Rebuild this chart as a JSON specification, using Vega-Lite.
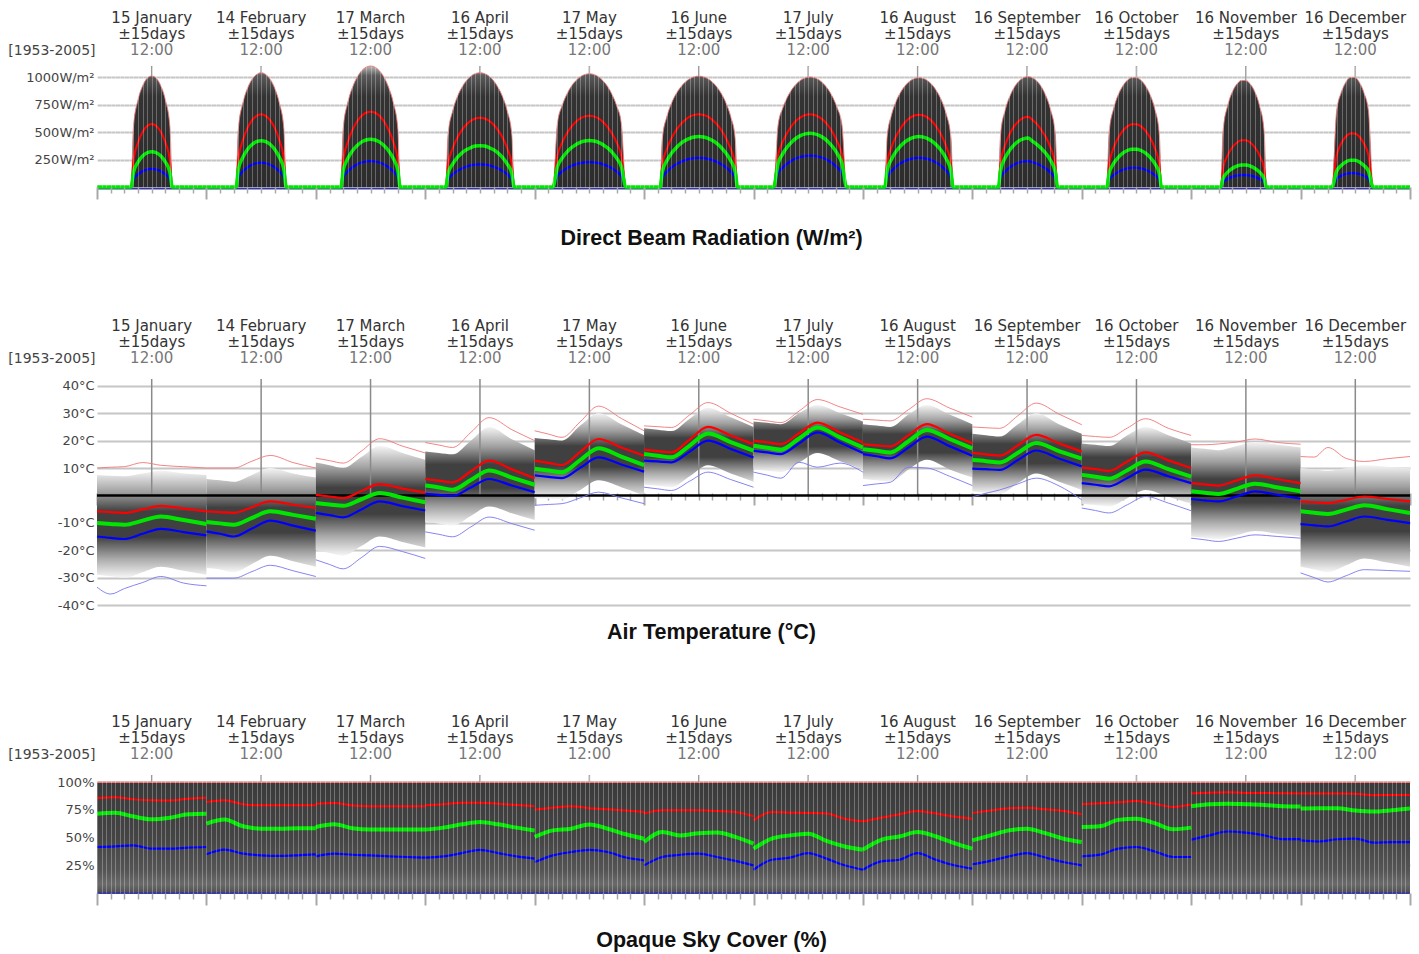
{
"$schema":"https://vega.github.io/schema/vega-lite/v6.json",
"background":"white",
"padding":{"left":7,"top":0,"right":10,"bottom":0},
"config":{"view":{"stroke":null},"axis":{"labelFont":"DejaVu Sans","labelColor":"#444444","labelFontSize":13}},
"datasets":{
"hdr":[
{"t":12,"ln":"a","txt":"15 January"},{"t":12,"ln":"b","txt":"±15days"},{"t":12,"ln":"c","txt":"12:00"},
{"t":36,"ln":"a","txt":"14 February"},{"t":36,"ln":"b","txt":"±15days"},{"t":36,"ln":"c","txt":"12:00"},
{"t":60,"ln":"a","txt":"17 March"},{"t":60,"ln":"b","txt":"±15days"},{"t":60,"ln":"c","txt":"12:00"},
{"t":84,"ln":"a","txt":"16 April"},{"t":84,"ln":"b","txt":"±15days"},{"t":84,"ln":"c","txt":"12:00"},
{"t":108,"ln":"a","txt":"17 May"},{"t":108,"ln":"b","txt":"±15days"},{"t":108,"ln":"c","txt":"12:00"},
{"t":132,"ln":"a","txt":"16 June"},{"t":132,"ln":"b","txt":"±15days"},{"t":132,"ln":"c","txt":"12:00"},
{"t":156,"ln":"a","txt":"17 July"},{"t":156,"ln":"b","txt":"±15days"},{"t":156,"ln":"c","txt":"12:00"},
{"t":180,"ln":"a","txt":"16 August"},{"t":180,"ln":"b","txt":"±15days"},{"t":180,"ln":"c","txt":"12:00"},
{"t":204,"ln":"a","txt":"16 September"},{"t":204,"ln":"b","txt":"±15days"},{"t":204,"ln":"c","txt":"12:00"},
{"t":228,"ln":"a","txt":"16 October"},{"t":228,"ln":"b","txt":"±15days"},{"t":228,"ln":"c","txt":"12:00"},
{"t":252,"ln":"a","txt":"16 November"},{"t":252,"ln":"b","txt":"±15days"},{"t":252,"ln":"c","txt":"12:00"},
{"t":276,"ln":"a","txt":"16 December"},{"t":276,"ln":"b","txt":"±15days"},{"t":276,"ln":"c","txt":"12:00"}
],
"rad":[
{"t":0,"mx":0,"hi":0,"av":0,"lo":0},
{"t":7.5,"mx":0,"hi":0,"av":0,"lo":0},
{"t":8,"mx":547,"hi":239,"av":134,"lo":68},
{"t":9,"mx":792,"hi":405,"av":227,"lo":116},
{"t":10,"mx":919,"hi":501,"av":281,"lo":144},
{"t":11,"mx":988,"hi":555,"av":311,"lo":159},
{"t":12,"mx":1009,"hi":573,"av":321,"lo":164},
{"t":13,"mx":988,"hi":555,"av":311,"lo":159},
{"t":14,"mx":919,"hi":501,"av":281,"lo":144},
{"t":15,"mx":792,"hi":405,"av":227,"lo":116},
{"t":16,"mx":547,"hi":239,"av":134,"lo":68},
{"t":16.5,"mx":0,"hi":0,"av":0,"lo":0},
{"t":30.5,"mx":0,"hi":0,"av":0,"lo":0},
{"t":31,"mx":525,"hi":249,"av":159,"lo":83},
{"t":32,"mx":764,"hi":426,"av":271,"lo":142},
{"t":33,"mx":896,"hi":535,"av":341,"lo":179},
{"t":34,"mx":978,"hi":606,"av":386,"lo":203},
{"t":35,"mx":1023,"hi":647,"av":412,"lo":216},
{"t":36,"mx":1039,"hi":661,"av":421,"lo":221},
{"t":37,"mx":1023,"hi":647,"av":412,"lo":216},
{"t":38,"mx":978,"hi":606,"av":386,"lo":203},
{"t":39,"mx":896,"hi":535,"av":341,"lo":179},
{"t":40,"mx":764,"hi":426,"av":271,"lo":142},
{"t":41,"mx":525,"hi":249,"av":159,"lo":83},
{"t":41.5,"mx":0,"hi":0,"av":0,"lo":0},
{"t":53.5,"mx":0,"hi":0,"av":0,"lo":0},
{"t":54,"mx":525,"hi":238,"av":151,"lo":82},
{"t":55,"mx":766,"hi":408,"av":258,"lo":140},
{"t":56,"mx":902,"hi":516,"av":327,"lo":178},
{"t":57,"mx":994,"hi":593,"av":375,"lo":204},
{"t":58,"mx":1054,"hi":645,"av":408,"lo":222},
{"t":59,"mx":1089,"hi":675,"av":427,"lo":232},
{"t":60,"mx":1100,"hi":685,"av":434,"lo":236},
{"t":61,"mx":1089,"hi":675,"av":427,"lo":232},
{"t":62,"mx":1054,"hi":645,"av":408,"lo":222},
{"t":63,"mx":994,"hi":593,"av":375,"lo":204},
{"t":64,"mx":902,"hi":516,"av":327,"lo":178},
{"t":65,"mx":766,"hi":408,"av":258,"lo":140},
{"t":66,"mx":525,"hi":238,"av":151,"lo":82},
{"t":66.5,"mx":0,"hi":0,"av":0,"lo":0},
{"t":76.5,"mx":0,"hi":0,"av":0,"lo":0},
{"t":77,"mx":472,"hi":203,"av":121,"lo":66},
{"t":78,"mx":689,"hi":350,"av":209,"lo":114},
{"t":79,"mx":816,"hi":445,"av":266,"lo":145},
{"t":80,"mx":903,"hi":515,"av":308,"lo":168},
{"t":81,"mx":965,"hi":566,"av":338,"lo":184},
{"t":82,"mx":1007,"hi":602,"av":359,"lo":196},
{"t":83,"mx":1031,"hi":623,"av":372,"lo":203},
{"t":84,"mx":1039,"hi":630,"av":376,"lo":205},
{"t":85,"mx":1031,"hi":623,"av":372,"lo":203},
{"t":86,"mx":1007,"hi":602,"av":359,"lo":196},
{"t":87,"mx":965,"hi":566,"av":338,"lo":184},
{"t":88,"mx":903,"hi":515,"av":308,"lo":168},
{"t":89,"mx":816,"hi":445,"av":266,"lo":145},
{"t":90,"mx":689,"hi":350,"av":209,"lo":114},
{"t":91,"mx":472,"hi":203,"av":121,"lo":66},
{"t":91.5,"mx":0,"hi":0,"av":0,"lo":0},
{"t":100,"mx":0,"hi":0,"av":0,"lo":0},
{"t":101,"mx":581,"hi":286,"av":187,"lo":100},
{"t":102,"mx":736,"hi":401,"av":261,"lo":140},
{"t":103,"mx":838,"hi":483,"av":315,"lo":169},
{"t":104,"mx":913,"hi":545,"av":355,"lo":190},
{"t":105,"mx":965,"hi":591,"av":385,"lo":206},
{"t":106,"mx":1002,"hi":623,"av":406,"lo":217},
{"t":107,"mx":1023,"hi":642,"av":418,"lo":224},
{"t":108,"mx":1030,"hi":648,"av":422,"lo":226},
{"t":109,"mx":1023,"hi":642,"av":418,"lo":224},
{"t":110,"mx":1002,"hi":623,"av":406,"lo":217},
{"t":111,"mx":965,"hi":591,"av":385,"lo":206},
{"t":112,"mx":913,"hi":545,"av":355,"lo":190},
{"t":113,"mx":838,"hi":483,"av":315,"lo":169},
{"t":114,"mx":736,"hi":401,"av":261,"lo":140},
{"t":115,"mx":581,"hi":286,"av":187,"lo":100},
{"t":116,"mx":0,"hi":0,"av":0,"lo":0},
{"t":123.5,"mx":0,"hi":0,"av":0,"lo":0},
{"t":124,"mx":437,"hi":201,"av":139,"lo":81},
{"t":125,"mx":640,"hi":346,"av":240,"lo":139},
{"t":126,"mx":760,"hi":442,"av":306,"lo":177},
{"t":127,"mx":845,"hi":514,"av":355,"lo":206},
{"t":128,"mx":907,"hi":569,"av":394,"lo":228},
{"t":129,"mx":953,"hi":610,"av":422,"lo":244},
{"t":130,"mx":984,"hi":639,"av":442,"lo":256},
{"t":131,"mx":1002,"hi":656,"av":454,"lo":263},
{"t":132,"mx":1008,"hi":662,"av":458,"lo":265},
{"t":133,"mx":1002,"hi":656,"av":454,"lo":263},
{"t":134,"mx":984,"hi":639,"av":442,"lo":256},
{"t":135,"mx":953,"hi":610,"av":422,"lo":244},
{"t":136,"mx":907,"hi":569,"av":394,"lo":228},
{"t":137,"mx":845,"hi":514,"av":355,"lo":206},
{"t":138,"mx":760,"hi":442,"av":306,"lo":177},
{"t":139,"mx":640,"hi":346,"av":240,"lo":139},
{"t":140,"mx":437,"hi":201,"av":139,"lo":81},
{"t":140.5,"mx":0,"hi":0,"av":0,"lo":0},
{"t":148.4,"mx":0,"hi":0,"av":0,"lo":0},
{"t":149.4,"mx":564,"hi":293,"av":216,"lo":126},
{"t":150.4,"mx":715,"hi":410,"av":302,"lo":177},
{"t":151.4,"mx":814,"hi":494,"av":364,"lo":213},
{"t":152.4,"mx":886,"hi":557,"av":410,"lo":241},
{"t":153.4,"mx":937,"hi":604,"av":445,"lo":261},
{"t":154.4,"mx":973,"hi":636,"av":469,"lo":275},
{"t":155.4,"mx":993,"hi":655,"av":483,"lo":283},
{"t":156.4,"mx":1000,"hi":662,"av":488,"lo":286},
{"t":157.4,"mx":993,"hi":655,"av":483,"lo":283},
{"t":158.4,"mx":973,"hi":636,"av":469,"lo":275},
{"t":159.4,"mx":937,"hi":604,"av":445,"lo":261},
{"t":160.4,"mx":886,"hi":557,"av":410,"lo":241},
{"t":161.4,"mx":814,"hi":494,"av":364,"lo":213},
{"t":162.4,"mx":715,"hi":410,"av":302,"lo":177},
{"t":163.4,"mx":564,"hi":293,"av":216,"lo":126},
{"t":164.4,"mx":0,"hi":0,"av":0,"lo":0},
{"t":172.8,"mx":0,"hi":0,"av":0,"lo":0},
{"t":173.3,"mx":451,"hi":212,"av":148,"lo":86},
{"t":174.3,"mx":659,"hi":365,"av":255,"lo":147},
{"t":175.3,"mx":780,"hi":464,"av":324,"lo":187},
{"t":176.3,"mx":864,"hi":537,"av":375,"lo":217},
{"t":177.3,"mx":923,"hi":591,"av":412,"lo":238},
{"t":178.3,"mx":963,"hi":628,"av":438,"lo":253},
{"t":179.3,"mx":986,"hi":650,"av":453,"lo":262},
{"t":180.3,"mx":994,"hi":657,"av":458,"lo":265},
{"t":181.3,"mx":986,"hi":650,"av":453,"lo":262},
{"t":182.3,"mx":963,"hi":628,"av":438,"lo":253},
{"t":183.3,"mx":923,"hi":591,"av":412,"lo":238},
{"t":184.3,"mx":864,"hi":537,"av":375,"lo":217},
{"t":185.3,"mx":780,"hi":464,"av":324,"lo":187},
{"t":186.3,"mx":659,"hi":365,"av":255,"lo":147},
{"t":187.3,"mx":451,"hi":212,"av":148,"lo":86},
{"t":187.8,"mx":0,"hi":0,"av":0,"lo":0},
{"t":197.7,"mx":0,"hi":0,"av":0,"lo":0},
{"t":198.2,"mx":478,"hi":222,"av":154,"lo":82},
{"t":199.2,"mx":698,"hi":380,"av":265,"lo":140},
{"t":200.2,"mx":822,"hi":482,"av":336,"lo":178},
{"t":201.2,"mx":907,"hi":553,"av":385,"lo":204},
{"t":202.2,"mx":961,"hi":601,"av":419,"lo":222},
{"t":203.2,"mx":993,"hi":629,"av":438,"lo":232},
{"t":204.2,"mx":1003,"hi":639,"av":445,"lo":236},
{"t":205.2,"mx":993,"hi":610,"av":416,"lo":225},
{"t":206.2,"mx":961,"hi":571,"av":385,"lo":211},
{"t":207.2,"mx":907,"hi":514,"av":347,"lo":190},
{"t":208.2,"mx":822,"hi":448,"av":302,"lo":166},
{"t":209.2,"mx":698,"hi":353,"av":239,"lo":130},
{"t":210.2,"mx":478,"hi":206,"av":139,"lo":76},
{"t":210.7,"mx":0,"hi":0,"av":0,"lo":0},
{"t":221.5,"mx":0,"hi":0,"av":0,"lo":0},
{"t":222,"mx":489,"hi":207,"av":125,"lo":64},
{"t":223,"mx":713,"hi":355,"av":214,"lo":109},
{"t":224,"mx":838,"hi":447,"av":269,"lo":137},
{"t":225,"mx":919,"hi":511,"av":307,"lo":157},
{"t":226,"mx":970,"hi":551,"av":332,"lo":169},
{"t":227,"mx":994,"hi":571,"av":344,"lo":175},
{"t":228,"mx":994,"hi":571,"av":344,"lo":175},
{"t":229,"mx":970,"hi":551,"av":332,"lo":169},
{"t":230,"mx":919,"hi":511,"av":307,"lo":157},
{"t":231,"mx":838,"hi":447,"av":269,"lo":137},
{"t":232,"mx":713,"hi":355,"av":214,"lo":109},
{"t":233,"mx":489,"hi":207,"av":125,"lo":64},
{"t":233.5,"mx":0,"hi":0,"av":0,"lo":0},
{"t":246.5,"mx":0,"hi":0,"av":0,"lo":0},
{"t":247,"mx":508,"hi":169,"av":79,"lo":43},
{"t":248,"mx":738,"hi":288,"av":135,"lo":73},
{"t":249,"mx":862,"hi":359,"av":168,"lo":92},
{"t":250,"mx":934,"hi":403,"av":189,"lo":103},
{"t":251,"mx":969,"hi":424,"av":199,"lo":108},
{"t":252,"mx":969,"hi":424,"av":199,"lo":108},
{"t":253,"mx":934,"hi":403,"av":189,"lo":103},
{"t":254,"mx":862,"hi":359,"av":168,"lo":92},
{"t":255,"mx":738,"hi":288,"av":135,"lo":73},
{"t":256,"mx":508,"hi":169,"av":79,"lo":43},
{"t":256.5,"mx":0,"hi":0,"av":0,"lo":0},
{"t":270.9,"mx":0,"hi":0,"av":0,"lo":0},
{"t":271.9,"mx":687,"hi":287,"av":143,"lo":74},
{"t":272.9,"mx":857,"hi":394,"av":196,"lo":102},
{"t":273.9,"mx":951,"hi":457,"av":228,"lo":118},
{"t":274.9,"mx":995,"hi":487,"av":243,"lo":126},
{"t":275.9,"mx":995,"hi":487,"av":243,"lo":126},
{"t":276.9,"mx":951,"hi":457,"av":228,"lo":118},
{"t":277.9,"mx":857,"hi":394,"av":196,"lo":102},
{"t":278.9,"mx":687,"hi":287,"av":143,"lo":74},
{"t":279.9,"mx":0,"hi":0,"av":0,"lo":0},
{"t":288,"mx":0,"hi":0,"av":0,"lo":0}
],
"temp":[
{"m":0,"t":0,"mx":10,"hi":-5.8,"av":-10.1,"lo":-15,"mn":-33.5,"gt":7.5,"gb":-29},
{"m":0,"t":3,"mx":10.3,"hi":-6.1,"av":-10.4,"lo":-15.5,"mn":-36,"gt":7.2,"gb":-29.5},
{"m":0,"t":6,"mx":10.5,"hi":-6.4,"av":-10.7,"lo":-15.9,"mn":-34,"gt":7,"gb":-30},
{"m":0,"t":10,"mx":12,"hi":-5.1,"av":-9.2,"lo":-14,"mn":-31.8,"gt":8,"gb":-28},
{"m":0,"t":14,"mx":11,"hi":-3.8,"av":-7.7,"lo":-12.2,"mn":-29.6,"gt":9,"gb":-26},
{"m":0,"t":19,"mx":10.5,"hi":-4.8,"av":-9,"lo":-13.4,"mn":-32,"gt":8,"gb":-27.5},
{"m":0,"t":24,"mx":10,"hi":-5.8,"av":-10.4,"lo":-14.6,"mn":-33,"gt":7.5,"gb":-29},
{"m":1,"t":24,"mx":10,"hi":-5.8,"av":-9.7,"lo":-13.1,"mn":-30.2,"gt":6,"gb":-26.5},
{"m":1,"t":27,"mx":10,"hi":-6.1,"av":-10.2,"lo":-14,"mn":-30.2,"gt":5.5,"gb":-27},
{"m":1,"t":30,"mx":10,"hi":-6.4,"av":-10.7,"lo":-15,"mn":-30.2,"gt":5,"gb":-28},
{"m":1,"t":34,"mx":12.5,"hi":-4.3,"av":-8.2,"lo":-12.1,"mn":-27.8,"gt":7.5,"gb":-25},
{"m":1,"t":38,"mx":14.6,"hi":-2.2,"av":-5.8,"lo":-9.2,"mn":-25.5,"gt":10,"gb":-22},
{"m":1,"t":43,"mx":12,"hi":-3.4,"av":-7.1,"lo":-11,"mn":-27.5,"gt":8,"gb":-24},
{"m":1,"t":48,"mx":10,"hi":-4.6,"av":-8.5,"lo":-12.9,"mn":-29.6,"gt":6.5,"gb":-26},
{"m":2,"t":48,"mx":13.6,"hi":0.2,"av":-2.8,"lo":-6.4,"mn":-23.5,"gt":12,"gb":-20},
{"m":2,"t":51,"mx":12.7,"hi":-0.4,"av":-3.3,"lo":-7.2,"mn":-25.2,"gt":11,"gb":-21},
{"m":2,"t":54,"mx":11.8,"hi":-1,"av":-3.8,"lo":-8,"mn":-26.8,"gt":10,"gb":-22},
{"m":2,"t":58,"mx":16.2,"hi":1.6,"av":-1.4,"lo":-5.1,"mn":-22.7,"gt":14,"gb":-18.5},
{"m":2,"t":62,"mx":20.7,"hi":4.1,"av":0.9,"lo":-2.2,"mn":-18.6,"gt":18,"gb":-15},
{"m":2,"t":67,"mx":18,"hi":2.5,"av":-0.8,"lo":-3.9,"mn":-20.5,"gt":15.5,"gb":-17},
{"m":2,"t":72,"mx":15.5,"hi":1,"av":-2.5,"lo":-5.5,"mn":-23,"gt":13,"gb":-19},
{"m":3,"t":72,"mx":19.3,"hi":6,"av":3.6,"lo":0.6,"mn":-13.3,"gt":16,"gb":-9.5},
{"m":3,"t":75,"mx":18.4,"hi":5.4,"av":2.9,"lo":0.2,"mn":-14.2,"gt":15.5,"gb":-10.3},
{"m":3,"t":78,"mx":17.5,"hi":4.8,"av":2.1,"lo":-0.2,"mn":-15.1,"gt":15,"gb":-11},
{"m":3,"t":82,"mx":23,"hi":8.8,"av":5.6,"lo":2.9,"mn":-11.5,"gt":20,"gb":-7.5},
{"m":3,"t":86,"mx":28.4,"hi":12.7,"av":9.1,"lo":6,"mn":-7.9,"gt":25,"gb":-4},
{"m":3,"t":91,"mx":24,"hi":9.5,"av":6.5,"lo":3.6,"mn":-10.3,"gt":20.5,"gb":-6.5},
{"m":3,"t":96,"mx":20,"hi":6.3,"av":3.9,"lo":1.2,"mn":-12.7,"gt":16.5,"gb":-9},
{"m":4,"t":96,"mx":23.6,"hi":12.7,"av":9.7,"lo":7.3,"mn":-3.6,"gt":21,"gb":-1},
{"m":4,"t":99,"mx":22.4,"hi":11.9,"av":9.1,"lo":6.8,"mn":-3.3,"gt":20.5,"gb":-1.2},
{"m":4,"t":102,"mx":21.2,"hi":11.1,"av":8.5,"lo":6.3,"mn":-3,"gt":20,"gb":-1.5},
{"m":4,"t":106,"mx":26.9,"hi":15.9,"av":12.9,"lo":10.1,"mn":-0.9,"gt":25.5,"gb":2},
{"m":4,"t":110,"mx":32.6,"hi":20.6,"av":17.2,"lo":13.9,"mn":1.2,"gt":30,"gb":5.5},
{"m":4,"t":115,"mx":28.1,"hi":17.5,"av":14.2,"lo":11.3,"mn":-0.9,"gt":26,"gb":3},
{"m":4,"t":120,"mx":23.6,"hi":14.5,"av":11.1,"lo":8.7,"mn":-3,"gt":22,"gb":0},
{"m":5,"t":120,"mx":25.4,"hi":16.7,"av":15.1,"lo":12.7,"mn":3,"gt":24.5,"gb":4},
{"m":5,"t":123,"mx":25.1,"hi":16.2,"av":14.5,"lo":12.4,"mn":2.4,"gt":24,"gb":3.5},
{"m":5,"t":126,"mx":24.8,"hi":15.7,"av":13.9,"lo":12.1,"mn":1.8,"gt":23.5,"gb":3},
{"m":5,"t":130,"mx":29.4,"hi":20.4,"av":18.2,"lo":16,"mn":5.2,"gt":28,"gb":7},
{"m":5,"t":134,"mx":33.9,"hi":25,"av":22.6,"lo":20,"mn":8.5,"gt":32,"gb":11},
{"m":5,"t":139,"mx":30,"hi":21.9,"av":19.5,"lo":17,"mn":5.8,"gt":28.5,"gb":8},
{"m":5,"t":144,"mx":26,"hi":18.7,"av":16.3,"lo":13.9,"mn":3,"gt":25,"gb":5},
{"m":6,"t":144,"mx":27.8,"hi":20,"av":18.1,"lo":16.3,"mn":8.5,"gt":27,"gb":9.5},
{"m":6,"t":147,"mx":27.2,"hi":19.4,"av":17.4,"lo":15.7,"mn":7.4,"gt":26.5,"gb":9},
{"m":6,"t":150,"mx":26.6,"hi":18.7,"av":16.7,"lo":15.1,"mn":6.3,"gt":26,"gb":8.5},
{"m":6,"t":154,"mx":30.8,"hi":22.7,"av":20.8,"lo":19,"mn":12.1,"gt":30,"gb":12},
{"m":6,"t":158,"mx":35,"hi":26.6,"av":24.8,"lo":23,"mn":10.3,"gt":33,"gb":15.5},
{"m":6,"t":163,"mx":32.3,"hi":23,"av":21.2,"lo":19.3,"mn":11.8,"gt":30,"gb":12.5},
{"m":6,"t":168,"mx":29.6,"hi":19.3,"av":17.5,"lo":15.5,"mn":8.5,"gt":27,"gb":9.5},
{"m":7,"t":168,"mx":27.8,"hi":18.7,"av":16.9,"lo":15.1,"mn":3.6,"gt":26,"gb":6},
{"m":7,"t":171,"mx":27.5,"hi":18.3,"av":16.3,"lo":14.3,"mn":4.2,"gt":25.5,"gb":5.5},
{"m":7,"t":174,"mx":27.2,"hi":17.9,"av":15.7,"lo":13.5,"mn":4.8,"gt":25,"gb":5},
{"m":7,"t":178,"mx":31.3,"hi":22,"av":19.8,"lo":17.5,"mn":10.3,"gt":29.5,"gb":9.5},
{"m":7,"t":182,"mx":35.3,"hi":26,"av":23.9,"lo":21.5,"mn":10,"gt":33,"gb":13},
{"m":7,"t":187,"mx":31.9,"hi":22.5,"av":20.6,"lo":18,"mn":7,"gt":29.5,"gb":9.5},
{"m":7,"t":192,"mx":28.6,"hi":19,"av":17.2,"lo":14.5,"mn":3.6,"gt":26,"gb":6.5},
{"m":8,"t":192,"mx":25,"hi":15.5,"av":12.9,"lo":9.8,"mn":-0.5,"gt":22.5,"gb":1.5},
{"m":8,"t":195,"mx":24.7,"hi":15,"av":12.5,"lo":9.6,"mn":0.8,"gt":22,"gb":1},
{"m":8,"t":198,"mx":24.5,"hi":14.5,"av":12,"lo":9.3,"mn":2,"gt":21.5,"gb":0.5},
{"m":8,"t":202,"mx":29.1,"hi":18.3,"av":15.6,"lo":12.9,"mn":4.2,"gt":26,"gb":4.5},
{"m":8,"t":206,"mx":33.7,"hi":22.1,"av":19.1,"lo":16.4,"mn":6.3,"gt":30,"gb":8},
{"m":8,"t":211,"mx":29.7,"hi":19,"av":16.2,"lo":13.5,"mn":3.5,"gt":26,"gb":5},
{"m":8,"t":216,"mx":25.8,"hi":16,"av":13.4,"lo":10.6,"mn":-1.6,"gt":22.5,"gb":2},
{"m":9,"t":216,"mx":21.9,"hi":10.2,"av":7.5,"lo":4.5,"mn":-4.6,"gt":19,"gb":-3},
{"m":9,"t":219,"mx":21.5,"hi":9.6,"av":6.8,"lo":3.9,"mn":-5.5,"gt":18.5,"gb":-3.5},
{"m":9,"t":222,"mx":21.2,"hi":9,"av":6.1,"lo":3.3,"mn":-6.4,"gt":18,"gb":-4},
{"m":9,"t":226,"mx":24.6,"hi":12.4,"av":9.2,"lo":6.4,"mn":-3.4,"gt":22,"gb":-1},
{"m":9,"t":230,"mx":28,"hi":15.7,"av":12.4,"lo":9.4,"mn":-0.4,"gt":25,"gb":2},
{"m":9,"t":235,"mx":24.5,"hi":12.8,"av":9.6,"lo":7,"mn":-2.8,"gt":22,"gb":-0.5},
{"m":9,"t":240,"mx":21.9,"hi":10,"av":6.9,"lo":4.5,"mn":-5.6,"gt":19,"gb":-3},
{"m":10,"t":240,"mx":18.5,"hi":4.5,"av":1.5,"lo":-1.3,"mn":-15.6,"gt":17.5,"gb":-15},
{"m":10,"t":243,"mx":18.5,"hi":4,"av":1,"lo":-1.8,"mn":-16.2,"gt":17,"gb":-15.5},
{"m":10,"t":246,"mx":18.8,"hi":3.6,"av":0.5,"lo":-2.2,"mn":-16.8,"gt":16.5,"gb":-16},
{"m":10,"t":250,"mx":19.5,"hi":5.5,"av":2.4,"lo":-0.4,"mn":-15.6,"gt":18,"gb":-14.5},
{"m":10,"t":254,"mx":20.6,"hi":7.3,"av":4.3,"lo":1.5,"mn":-14.4,"gt":19.5,"gb":-13},
{"m":10,"t":259,"mx":19.3,"hi":5.9,"av":2.9,"lo":0.2,"mn":-15,"gt":18.5,"gb":-14},
{"m":10,"t":264,"mx":18.7,"hi":4.5,"av":1.5,"lo":-1.2,"mn":-15.6,"gt":17.5,"gb":-15},
{"m":11,"t":264,"mx":14.2,"hi":-2.2,"av":-5.8,"lo":-10.5,"mn":-28.3,"gt":10,"gb":-26},
{"m":11,"t":267,"mx":14,"hi":-2.5,"av":-6.3,"lo":-10.9,"mn":-30,"gt":9.5,"gb":-27},
{"m":11,"t":270,"mx":17.5,"hi":-2.8,"av":-6.8,"lo":-11.3,"mn":-31.6,"gt":9,"gb":-28},
{"m":11,"t":274,"mx":13.5,"hi":-1.6,"av":-5.2,"lo":-9.5,"mn":-29.3,"gt":10,"gb":-25.5},
{"m":11,"t":278,"mx":12.4,"hi":-0.4,"av":-3.6,"lo":-7.7,"mn":-27.1,"gt":11,"gb":-23},
{"m":11,"t":283,"mx":13.4,"hi":-1.3,"av":-5,"lo":-8.9,"mn":-27.4,"gt":10.5,"gb":-24.5},
{"m":11,"t":288,"mx":14.2,"hi":-2.2,"av":-6.4,"lo":-10.1,"mn":-27.7,"gt":10,"gb":-26}
],
"sky":[
{"m":0,"t":0,"hi":85.8,"av":71.6,"lo":41.5},{"m":0,"t":4,"hi":86.5,"av":72.5,"lo":42},{"m":0,"t":8,"hi":84.5,"av":69,"lo":43},{"m":0,"t":12,"hi":83.7,"av":66.5,"lo":40},{"m":0,"t":16,"hi":83.5,"av":68,"lo":40},{"m":0,"t":20,"hi":85,"av":71,"lo":41},{"m":0,"t":24,"hi":86,"av":71.6,"lo":41.5},
{"m":1,"t":24,"hi":82.2,"av":62.6,"lo":34.9},{"m":1,"t":28,"hi":83.7,"av":66.3,"lo":39.1},{"m":1,"t":32,"hi":80.1,"av":60.2,"lo":35.5},{"m":1,"t":36,"hi":79.1,"av":58.1,"lo":34},{"m":1,"t":40,"hi":79.1,"av":58,"lo":33.5},{"m":1,"t":44,"hi":79.3,"av":58.5,"lo":34},{"m":1,"t":48,"hi":79.3,"av":58.5,"lo":34.9},
{"m":2,"t":48,"hi":80.6,"av":59.6,"lo":33.1},{"m":2,"t":52,"hi":81.3,"av":62,"lo":35.5},{"m":2,"t":56,"hi":79,"av":58.5,"lo":34.5},{"m":2,"t":60,"hi":78.3,"av":57.2,"lo":34},{"m":2,"t":64,"hi":78.3,"av":57.2,"lo":33.1},{"m":2,"t":68,"hi":78.3,"av":57.2,"lo":32.5},{"m":2,"t":72,"hi":78.3,"av":57.2,"lo":31.9},
{"m":3,"t":72,"hi":79.1,"av":57.2,"lo":31.9},{"m":3,"t":76,"hi":80,"av":59,"lo":33},{"m":3,"t":80,"hi":81.5,"av":62,"lo":36},{"m":3,"t":84,"hi":81.5,"av":64,"lo":39},{"m":3,"t":88,"hi":80.5,"av":62,"lo":36},{"m":3,"t":92,"hi":79.5,"av":59,"lo":33},{"m":3,"t":96,"hi":78.3,"av":56.5,"lo":31},
{"m":4,"t":96,"hi":75.2,"av":50.6,"lo":27.9},{"m":4,"t":100,"hi":77,"av":56.5,"lo":34},{"m":4,"t":104,"hi":78.3,"av":58,"lo":37},{"m":4,"t":108,"hi":76.5,"av":61.9,"lo":39},{"m":4,"t":112,"hi":75.5,"av":58,"lo":37},{"m":4,"t":116,"hi":74.5,"av":53,"lo":32},{"m":4,"t":120,"hi":73.2,"av":49,"lo":29.5},
{"m":5,"t":120,"hi":71.7,"av":46,"lo":24.9},{"m":5,"t":124,"hi":74.7,"av":55,"lo":32.5},{"m":5,"t":128,"hi":74.7,"av":52,"lo":34.5},{"m":5,"t":132,"hi":74.7,"av":54,"lo":35.5},{"m":5,"t":136,"hi":74,"av":54.5,"lo":32.5},{"m":5,"t":140,"hi":73.2,"av":50.6,"lo":29},{"m":5,"t":144,"hi":69.3,"av":44.5,"lo":24.9},
{"m":6,"t":144,"hi":65.6,"av":40,"lo":21},{"m":6,"t":148,"hi":73.2,"av":49,"lo":30},{"m":6,"t":152,"hi":72.5,"av":52,"lo":31.9},{"m":6,"t":156,"hi":72.2,"av":53.5,"lo":36},{"m":6,"t":160,"hi":71.7,"av":47,"lo":31},{"m":6,"t":164,"hi":67,"av":42,"lo":25},{"m":6,"t":168,"hi":64.7,"av":39.1,"lo":21},
{"m":7,"t":168,"hi":64.7,"av":39.1,"lo":21},{"m":7,"t":172,"hi":68,"av":48,"lo":28.5},{"m":7,"t":176,"hi":71,"av":51,"lo":30},{"m":7,"t":180,"hi":74,"av":55,"lo":36},{"m":7,"t":184,"hi":71.7,"av":51,"lo":30},{"m":7,"t":188,"hi":69,"av":45,"lo":25},{"m":7,"t":192,"hi":67,"av":40,"lo":22},
{"m":8,"t":192,"hi":72.3,"av":47.5,"lo":25.9},{"m":8,"t":196,"hi":74.5,"av":52,"lo":29},{"m":8,"t":200,"hi":76.5,"av":56.5,"lo":33},{"m":8,"t":204,"hi":77,"av":58,"lo":36},{"m":8,"t":208,"hi":75.5,"av":54,"lo":32},{"m":8,"t":212,"hi":74,"av":49,"lo":28},{"m":8,"t":216,"hi":71,"av":46,"lo":25},
{"m":9,"t":216,"hi":80.1,"av":59.6,"lo":33.1},{"m":9,"t":220,"hi":81,"av":60.2,"lo":34.6},{"m":9,"t":224,"hi":81.8,"av":66,"lo":40},{"m":9,"t":228,"hi":83.1,"av":67.1,"lo":41.5},{"m":9,"t":232,"hi":80.5,"av":63,"lo":37.5},{"m":9,"t":236,"hi":77.7,"av":57.5,"lo":32.5},{"m":9,"t":240,"hi":79.8,"av":59,"lo":32.5},
{"m":10,"t":240,"hi":89.8,"av":78.3,"lo":48.1},{"m":10,"t":244,"hi":90.5,"av":80,"lo":52},{"m":10,"t":248,"hi":91,"av":80.5,"lo":55.5},{"m":10,"t":252,"hi":90.3,"av":80.1,"lo":54.5},{"m":10,"t":256,"hi":90.3,"av":79.5,"lo":52},{"m":10,"t":260,"hi":90,"av":78.3,"lo":48.6},{"m":10,"t":264,"hi":89.8,"av":78,"lo":48.6},
{"m":11,"t":264,"hi":89.8,"av":76.2,"lo":47.5},{"m":11,"t":268,"hi":89.8,"av":76.5,"lo":46.5},{"m":11,"t":272,"hi":89.8,"av":76.5,"lo":48.5},{"m":11,"t":276,"hi":89.5,"av":74.5,"lo":49},{"m":11,"t":280,"hi":88.3,"av":73.5,"lo":45.5},{"m":11,"t":284,"hi":88.5,"av":74.6,"lo":46},{"m":11,"t":288,"hi":88.5,"av":76.2,"lo":46}
]
},
"spacing":58,
"vconcat":[
{"spacing":0,"vconcat":[
 {"data":{"name":"hdr"},"width":1313,"height":64,
  "mark":{"type":"text","baseline":"middle","font":"DejaVu Sans"},
  "encoding":{
   "x":{"field":"t","type":"quantitative","scale":{"domain":[0,288],"nice":false,"zero":false},"axis":null},
   "y":{"field":"ln","type":"nominal","scale":{"type":"point","padding":0,"domain":["a","b","c"],"range":[18,50]},"axis":{"title":null,"domain":false,"ticks":false,"grid":false,"labelExpr":"datum.value === 'c' ? '[1953-2005]' : ''","labelFontSize":14,"labelColor":"#444444","labelPadding":2}},
   "text":{"field":"txt"},
   "size":{"field":"ln","type":"ordinal","scale":{"domain":["a","b","c"],"range":[15,15,10]},"legend":null},
   "color":{"field":"ln","type":"nominal","scale":{"domain":["a","b","c"],"range":["#333333","#333333","#777777"]},"legend":null}
  }},
 {"data":{"name":"rad"},"width":1313,"height":121,
  "title":{"text":"Direct Beam Radiation (W/m²)","orient":"bottom","anchor":"middle","frame":"group","dx":-42,"offset":28,"font":"Liberation Sans Narrow, Arial Narrow, Liberation Sans, sans-serif","fontSize":21.5,"fontWeight":"bold","color":"#111111"},
  "encoding":{"x":{"field":"t","type":"quantitative","title":null,"scale":{"domain":[0,288],"nice":false,"zero":false},
    "axis":{"title":null,"labels":false,"domain":false,"tickCount":288,"tickColor":"#a8a8a8",
     "tickSize":{"condition":[{"test":"datum.value % 24 === 0","value":12},{"test":"datum.value % 3 === 0","value":6}],"value":0},
     "tickWidth":{"condition":{"test":"datum.value % 24 === 0","value":2},"value":1.5},
     "grid":true,"gridColor":"#ffffff","gridOpacity":0.28,"gridWidth":1,"zindex":1}}},
  "layer":[
   {"data":{"name":"hdr"},"transform":[{"filter":"datum.ln === 'a'"}],"mark":{"type":"rule","color":"#999999","strokeWidth":1.5},"encoding":{"y":{"datum":0},"y2":{"datum":1100}}},
   {"mark":{"type":"area","interpolate":"monotone","color":{"gradient":"linear","x1":0,"y1":0,"x2":0,"y2":1,"stops":[{"offset":0,"color":"#b8b8b8"},{"offset":0.08,"color":"#5a5a5a"},{"offset":0.25,"color":"#333333"},{"offset":1,"color":"#2c2c2c"}]}},
    "encoding":{"y":{"field":"mx","type":"quantitative","title":null,"scale":{"domain":[0,1100],"nice":false},
      "axis":{"title":null,"values":[250,500,750,1000],"tickCount":20,"labelExpr":"datum.value + 'W/m²'","domain":false,"ticks":false,"grid":true,"gridColor":"#c6c6c6","gridWidth":2,"labelPadding":3}},
     "y2":{"datum":0}}},
   {"mark":{"type":"line","color":"#3a3a9a","strokeWidth":2,"yOffset":1.5},"encoding":{"y":{"datum":0}}},
   {"mark":{"type":"line","interpolate":"monotone","color":"#f07878","strokeWidth":1,"opacity":0.9},"encoding":{"y":{"field":"mx","type":"quantitative","title":null}}},
   {"mark":{"type":"line","interpolate":"monotone","color":"#ff0000","strokeWidth":2},"encoding":{"y":{"field":"hi","type":"quantitative","title":null}}},
   {"mark":{"type":"line","interpolate":"monotone","color":"#0000ff","strokeWidth":2.2},"encoding":{"y":{"field":"lo","type":"quantitative","title":null}}},
   {"mark":{"type":"line","interpolate":"monotone","color":"#00e600","strokeWidth":3.5},"encoding":{"y":{"field":"av","type":"quantitative","title":null}}}
  ]}
]},
{"spacing":0,"vconcat":[
 {"data":{"name":"hdr"},"width":1313,"height":70,
  "mark":{"type":"text","baseline":"middle","font":"DejaVu Sans"},
  "encoding":{
   "x":{"field":"t","type":"quantitative","scale":{"domain":[0,288],"nice":false,"zero":false},"axis":null},
   "y":{"field":"ln","type":"nominal","scale":{"type":"point","padding":0,"domain":["a","b","c"],"range":[18,50]},"axis":{"title":null,"domain":false,"ticks":false,"grid":false,"labelExpr":"datum.value === 'c' ? '[1953-2005]' : ''","labelFontSize":14,"labelColor":"#444444","labelPadding":2}},
   "text":{"field":"txt"},
   "size":{"field":"ln","type":"ordinal","scale":{"domain":["a","b","c"],"range":[15,15,10]},"legend":null},
   "color":{"field":"ln","type":"nominal","scale":{"domain":["a","b","c"],"range":["#333333","#333333","#777777"]},"legend":null}
  }},
 {"data":{"name":"temp"},"width":1313,"height":226,
  "title":{"text":"Air Temperature (°C)","orient":"bottom","anchor":"middle","frame":"group","dx":-42,"offset":10,"font":"Liberation Sans Narrow, Arial Narrow, Liberation Sans, sans-serif","fontSize":21.5,"fontWeight":"bold","color":"#111111"},
  "encoding":{"x":{"field":"t","type":"quantitative","title":null,"scale":{"domain":[0,288],"nice":false,"zero":false},
    "axis":{"title":null,"labels":false,"domain":false,"tickCount":288,"tickColor":"#a8a8a8","offset":-112,
     "tickSize":{"condition":[{"test":"datum.value % 24 === 0","value":12},{"test":"datum.value % 3 === 0","value":7}],"value":0},
     "tickWidth":{"condition":{"test":"datum.value % 24 === 0","value":2},"value":1.5},
     "grid":false,"zindex":0}}},
  "layer":[
   {"mark":{"type":"area","interpolate":"monotone","color":{"gradient":"linear","x1":0,"y1":0,"x2":0,"y2":1,"stops":[{"offset":0,"color":"#f4f4f4"},{"offset":0.2,"color":"#a0a0a0"},{"offset":0.38,"color":"#404040"},{"offset":0.62,"color":"#404040"},{"offset":0.82,"color":"#a8a8a8"},{"offset":1,"color":"#f6f6f6"}]}},
    "encoding":{"detail":{"field":"m"},"y":{"field":"gt","type":"quantitative","title":null,"scale":{"domain":[-40,42.5],"nice":false,"zero":false},
      "axis":{"title":null,"values":[-40,-30,-20,-10,10,20,30,40],"tickCount":20,"labelExpr":"datum.value + '°C'","domain":false,"ticks":false,"grid":true,"gridColor":"#c6c6c6","gridWidth":2,"labelPadding":3}},
     "y2":{"field":"gb"}}},
   {"data":{"name":"hdr"},"transform":[{"filter":"datum.ln === 'a'"}],"mark":{"type":"rule","color":"#8a8a8a","strokeWidth":1.5},"encoding":{"y":{"datum":0},"y2":{"datum":42.5}}},
   {"mark":{"type":"line","color":"#000000","strokeWidth":2.5},"encoding":{"y":{"datum":0}}},
   {"mark":{"type":"line","interpolate":"monotone","color":"#f07878","strokeWidth":1,"opacity":0.9},"encoding":{"detail":{"field":"m"},"y":{"field":"mx","type":"quantitative","title":null}}},
   {"mark":{"type":"line","interpolate":"monotone","color":"#7878f0","strokeWidth":1,"opacity":0.9},"encoding":{"detail":{"field":"m"},"y":{"field":"mn","type":"quantitative","title":null}}},
   {"mark":{"type":"line","interpolate":"monotone","color":"#ff0000","strokeWidth":2.2},"encoding":{"detail":{"field":"m"},"y":{"field":"hi","type":"quantitative","title":null}}},
   {"mark":{"type":"line","interpolate":"monotone","color":"#0000ff","strokeWidth":2.2},"encoding":{"detail":{"field":"m"},"y":{"field":"lo","type":"quantitative","title":null}}},
   {"mark":{"type":"line","interpolate":"monotone","color":"#00e600","strokeWidth":4},"encoding":{"detail":{"field":"m"},"y":{"field":"av","type":"quantitative","title":null}}}
  ]}
]},
{"spacing":0,"vconcat":[
 {"data":{"name":"hdr"},"width":1313,"height":72,
  "mark":{"type":"text","baseline":"middle","font":"DejaVu Sans"},
  "encoding":{
   "x":{"field":"t","type":"quantitative","scale":{"domain":[0,288],"nice":false,"zero":false},"axis":null},
   "y":{"field":"ln","type":"nominal","scale":{"type":"point","padding":0,"domain":["a","b","c"],"range":[20,52]},"axis":{"title":null,"domain":false,"ticks":false,"grid":false,"labelExpr":"datum.value === 'c' ? '[1953-2005]' : ''","labelFontSize":14,"labelColor":"#444444","labelPadding":2}},
   "text":{"field":"txt"},
   "size":{"field":"ln","type":"ordinal","scale":{"domain":["a","b","c"],"range":[15,15,10]},"legend":null},
   "color":{"field":"ln","type":"nominal","scale":{"domain":["a","b","c"],"range":["#333333","#333333","#777777"]},"legend":null}
  }},
 {"data":{"name":"sky"},"width":1313,"height":118,
  "title":{"text":"Opaque Sky Cover (%)","orient":"bottom","anchor":"middle","frame":"group","dx":-42,"offset":24,"font":"Liberation Sans Narrow, Arial Narrow, Liberation Sans, sans-serif","fontSize":21.5,"fontWeight":"bold","color":"#111111"},
  "encoding":{"x":{"field":"t","type":"quantitative","title":null,"scale":{"domain":[0,288],"nice":false,"zero":false},
    "axis":{"title":null,"labels":false,"domain":false,"tickCount":288,"tickColor":"#a8a8a8",
     "tickSize":{"condition":[{"test":"datum.value % 24 === 0","value":12},{"test":"datum.value % 3 === 0","value":6}],"value":0},
     "tickWidth":{"condition":{"test":"datum.value % 24 === 0","value":2},"value":1.5},
     "grid":true,"gridColor":"#ffffff","gridOpacity":0.28,"gridWidth":1,"zindex":1}}},
  "layer":[
   {"mark":{"type":"area","color":{"gradient":"linear","x1":0,"y1":0,"x2":0,"y2":1,"stops":[{"offset":0,"color":"#3a3a3a"},{"offset":0.5,"color":"#444444"},{"offset":0.8,"color":"#555555"},{"offset":0.92,"color":"#6a6a6a"},{"offset":1,"color":"#505050"}]}},
    "encoding":{"y":{"datum":100,"type":"quantitative","scale":{"domain":[0,106.5],"nice":false,"zero":false},
      "axis":{"title":null,"values":[25,50,75,100],"tickCount":20,"labelExpr":"datum.value + '%'","domain":false,"ticks":false,"grid":true,"gridColor":"#c6c6c6","gridWidth":2,"labelPadding":3}},
     "y2":{"datum":0}}},
   {"data":{"name":"hdr"},"transform":[{"filter":"datum.ln === 'a'"}],"mark":{"type":"rule","color":"#999999","strokeWidth":1.5},"encoding":{"y":{"datum":100},"y2":{"datum":106.5}}},
   {"mark":{"type":"line","color":"#f07878","strokeWidth":1.5},"encoding":{"y":{"datum":100}}},
   {"mark":{"type":"line","color":"#3a3a9a","strokeWidth":2},"encoding":{"y":{"datum":0}}},
   {"mark":{"type":"line","interpolate":"monotone","color":"#ff0000","strokeWidth":2},"encoding":{"detail":{"field":"m"},"y":{"field":"hi","type":"quantitative","title":null}}},
   {"mark":{"type":"line","interpolate":"monotone","color":"#0000ff","strokeWidth":2.2},"encoding":{"detail":{"field":"m"},"y":{"field":"lo","type":"quantitative","title":null}}},
   {"mark":{"type":"line","interpolate":"monotone","color":"#00e600","strokeWidth":4},"encoding":{"detail":{"field":"m"},"y":{"field":"av","type":"quantitative","title":null}}}
  ]}
]}
]
}
